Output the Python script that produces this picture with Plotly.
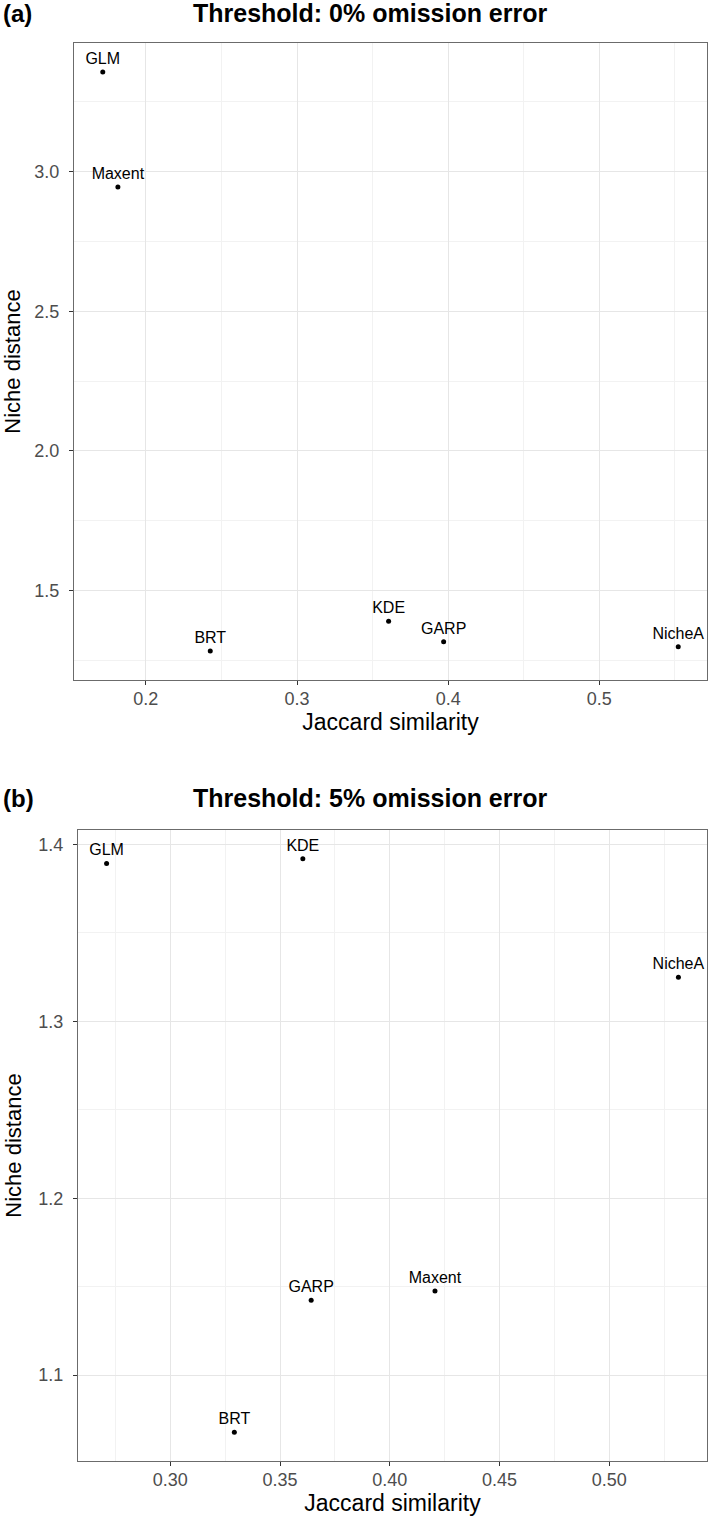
import plotly.graph_objects as go

# Panel (a): threshold 0% omission error
models_a = ["GLM", "Maxent", "BRT", "KDE", "GARP", "NicheA"]
jaccard_a = [0.1715, 0.1815, 0.2426, 0.3606, 0.3970, 0.5522]
niche_a = [3.356, 2.944, 1.284, 1.391, 1.317, 1.299]

# Panel (b): threshold 5% omission error
models_b = ["GLM", "KDE", "NicheA", "Maxent", "GARP", "BRT"]
jaccard_b = [0.2710, 0.3604, 0.5315, 0.4206, 0.3642, 0.3292]
niche_b = [1.3893, 1.3920, 1.3250, 1.1476, 1.1424, 1.0677]

panel_titles = ["Threshold: 0% omission error", "Threshold: 5% omission error"]
panel_tags = ["(a)", "(b)"]
x_title = "Jaccard similarity"
y_title = "Niche distance"

W, H = 709, 1529
FONT = "Liberation Sans, Arial, sans-serif"

def px_x(p):
    return p / W

def px_y(p):
    return 1 - p / H

fig = go.Figure()

for xs, ys, labels, xa_name, ya_name in [
        (jaccard_a, niche_a, models_a, "x", "y"),
        (jaccard_b, niche_b, models_b, "x2", "y2")]:
    fig.add_trace(go.Scatter(
        x=xs, y=ys, text=labels, mode="markers+text",
        textposition="top center", marker=dict(color="black", size=5),
        textfont=dict(family=FONT, size=16, color="black"),
        xaxis=xa_name, yaxis=ya_name, showlegend=False, cliponaxis=False))

def ax_common():
    return dict(
        showgrid=True, gridcolor="#e6e6e6", gridwidth=1,
        zeroline=False, showline=True, linecolor="#6b6b6b", linewidth=1, mirror=True,
        ticks="outside", ticklen=4, tickcolor="#333333", tickwidth=1,
        tickfont=dict(family=FONT, size=18, color="#4d4d4d"),
    )

def span(vals):
    lo, hi = min(vals), max(vals)
    e = (hi - lo) * 0.05
    return [lo - e, hi + e]

xa = ax_common()
xa.update(domain=[px_x(74), px_x(707)], range=span(jaccard_a), dtick=0.1, tick0=0,
          tickformat=".1f", anchor="y", ticklabelstandoff=-2,
          minor=dict(showgrid=True, dtick=0.05, tick0=0, gridcolor="#f2f2f2"),
          title=dict(text=x_title, standoff=3, font=dict(family=FONT, size=23, color="black")))
ya = ax_common()
ya.update(domain=[px_y(680), px_y(43)], range=span(niche_a), dtick=0.5, tick0=0,
          tickformat=".1f", anchor="x", ticklabelstandoff=6,
          minor=dict(showgrid=True, dtick=0.25, tick0=0, gridcolor="#f2f2f2"),
          title=dict(text=y_title, standoff=10, font=dict(family=FONT, size=22, color="black")))
xb = ax_common()
xb.update(domain=[px_x(78), px_x(707)], range=span(jaccard_b), dtick=0.05, tick0=0,
          tickformat=".2f", anchor="y2", ticklabelstandoff=-2,
          minor=dict(showgrid=True, dtick=0.025, tick0=0, gridcolor="#f2f2f2"),
          title=dict(text=x_title, standoff=3, font=dict(family=FONT, size=23, color="black")))
yb = ax_common()
yb.update(domain=[px_y(1461), px_y(830)], range=span(niche_b), dtick=0.1, tick0=0,
          tickformat=".1f", anchor="x2", ticklabelstandoff=6,
          minor=dict(showgrid=True, dtick=0.05, tick0=0, gridcolor="#f2f2f2"),
          title=dict(text=y_title, standoff=10, font=dict(family=FONT, size=22, color="black")))

annotations = []
for title, tag, top in [(panel_titles[0], panel_tags[0], 13),
                        (panel_titles[1], panel_tags[1], 798)]:
    annotations.append(dict(text="<b>%s</b>" % title, x=px_x(370), y=px_y(top),
                            xref="paper", yref="paper", showarrow=False,
                            xanchor="center", yanchor="middle",
                            font=dict(family=FONT, size=25, color="black")))
    annotations.append(dict(text="<b>%s</b>" % tag, x=px_x(1), y=px_y(top),
                            xref="paper", yref="paper", showarrow=False,
                            xanchor="left", yanchor="middle",
                            font=dict(family=FONT, size=24, color="black")))

fig.update_layout(
    width=W, height=H, margin=dict(l=0, r=0, t=0, b=0),
    paper_bgcolor="white", plot_bgcolor="white",
    xaxis=xa, yaxis=ya, xaxis2=xb, yaxis2=yb,
    annotations=annotations, showlegend=False,
    font=dict(family=FONT),
)

fig.write_html("out.html", config={"displayModeBar": False},
               post_script="document.body.style.margin='0';")
